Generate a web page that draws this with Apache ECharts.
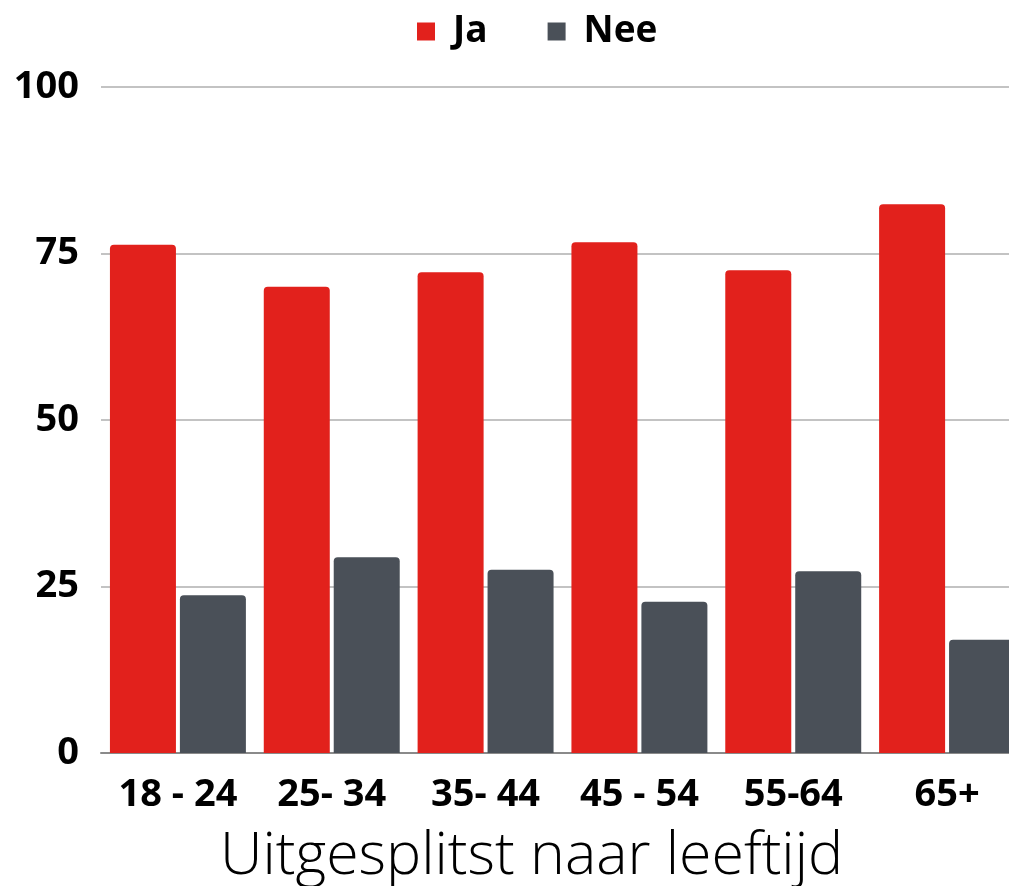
<!DOCTYPE html>
<html>
<head>
<meta charset="utf-8">
<script src="https://cdn.jsdelivr.net/npm/echarts@6/dist/echarts.min.js"></script>
<style>
    html, body { margin: 0; padding: 0; background: #fff; }
    #chart { width: 1009px; height: 886px; }
</style>
</head>
<body>
<div id="chart"></div>
<script>
    // leeftijdsgroepen
    var categories = ['18 - 24', '25- 34', '35- 44', '45 - 54', '55-64', '65+'];
    var jaValues = [76.3, 70.0, 72.2, 76.7, 72.5, 82.4];
    var neeValues = [23.7, 29.4, 27.5, 22.7, 27.3, 17.0];
    var yTicks = [0, 25, 50, 75, 100];

    var myChart = echarts.init(document.getElementById('chart'));

    var font = '"Open Sans", sans-serif';

    var option = {
        animation: false,
        textStyle: { fontFamily: font },
        title: {
            text: 'Uitgesplitst naar leeftijd',
            left: 215,
            bottom: -6,
            textStyle: {
                fontFamily: font,
                fontWeight: 300,
                fontSize: 59,
                color: '#000'
            }
        },
        legend: {
            data: ['Ja', 'Nee'],
            left: 412,
            top: 8,
            icon: 'rect',
            itemWidth: 18,
            itemHeight: 18,
            itemGap: 60,
            textStyle: {
                fontFamily: font,
                fontWeight: 'bold',
                fontSize: 37,
                color: '#000',
                padding: [0, 0, 0, 13]
            }
        },
        grid: {
            left: 101,
            right: -15,
            top: 87,
            bottom: 133,
            containLabel: false,
            outerBoundsMode: 'none'
        },
        xAxis: {
            type: 'category',
            data: categories,
            axisTick: { show: false },
            axisLine: { lineStyle: { color: '#8a8a8a', width: 2 } },
            axisLabel: {
                interval: 0,
                margin: 23,
                fontFamily: font,
                fontWeight: 'bold',
                fontSize: 38,
                color: '#000'
            }
        },
        yAxis: {
            type: 'value',
            min: yTicks[0],
            max: yTicks[yTicks.length - 1],
            interval: 25,
            axisLine: { show: false },
            axisTick: { show: false },
            splitLine: { lineStyle: { color: '#c3c3c3', width: 2 } },
            axisLabel: {
                margin: 22,
                fontFamily: font,
                fontWeight: 'bold',
                fontSize: 38,
                color: '#000'
            }
        },
        series: [
            {
                name: 'Ja',
                type: 'bar',
                data: jaValues,
                barWidth: 66,
                barGap: '6%',
                itemStyle: { color: '#e2211c', borderRadius: [4, 4, 0, 0] }
            },
            {
                name: 'Nee',
                type: 'bar',
                data: neeValues,
                barWidth: 66,
                itemStyle: { color: '#4a5058', borderRadius: [4, 4, 0, 0] }
            }
        ]
    };

    myChart.setOption(option);

    window.onresize = function () {
        myChart.resize();
    };
</script>
</body>
</html>
